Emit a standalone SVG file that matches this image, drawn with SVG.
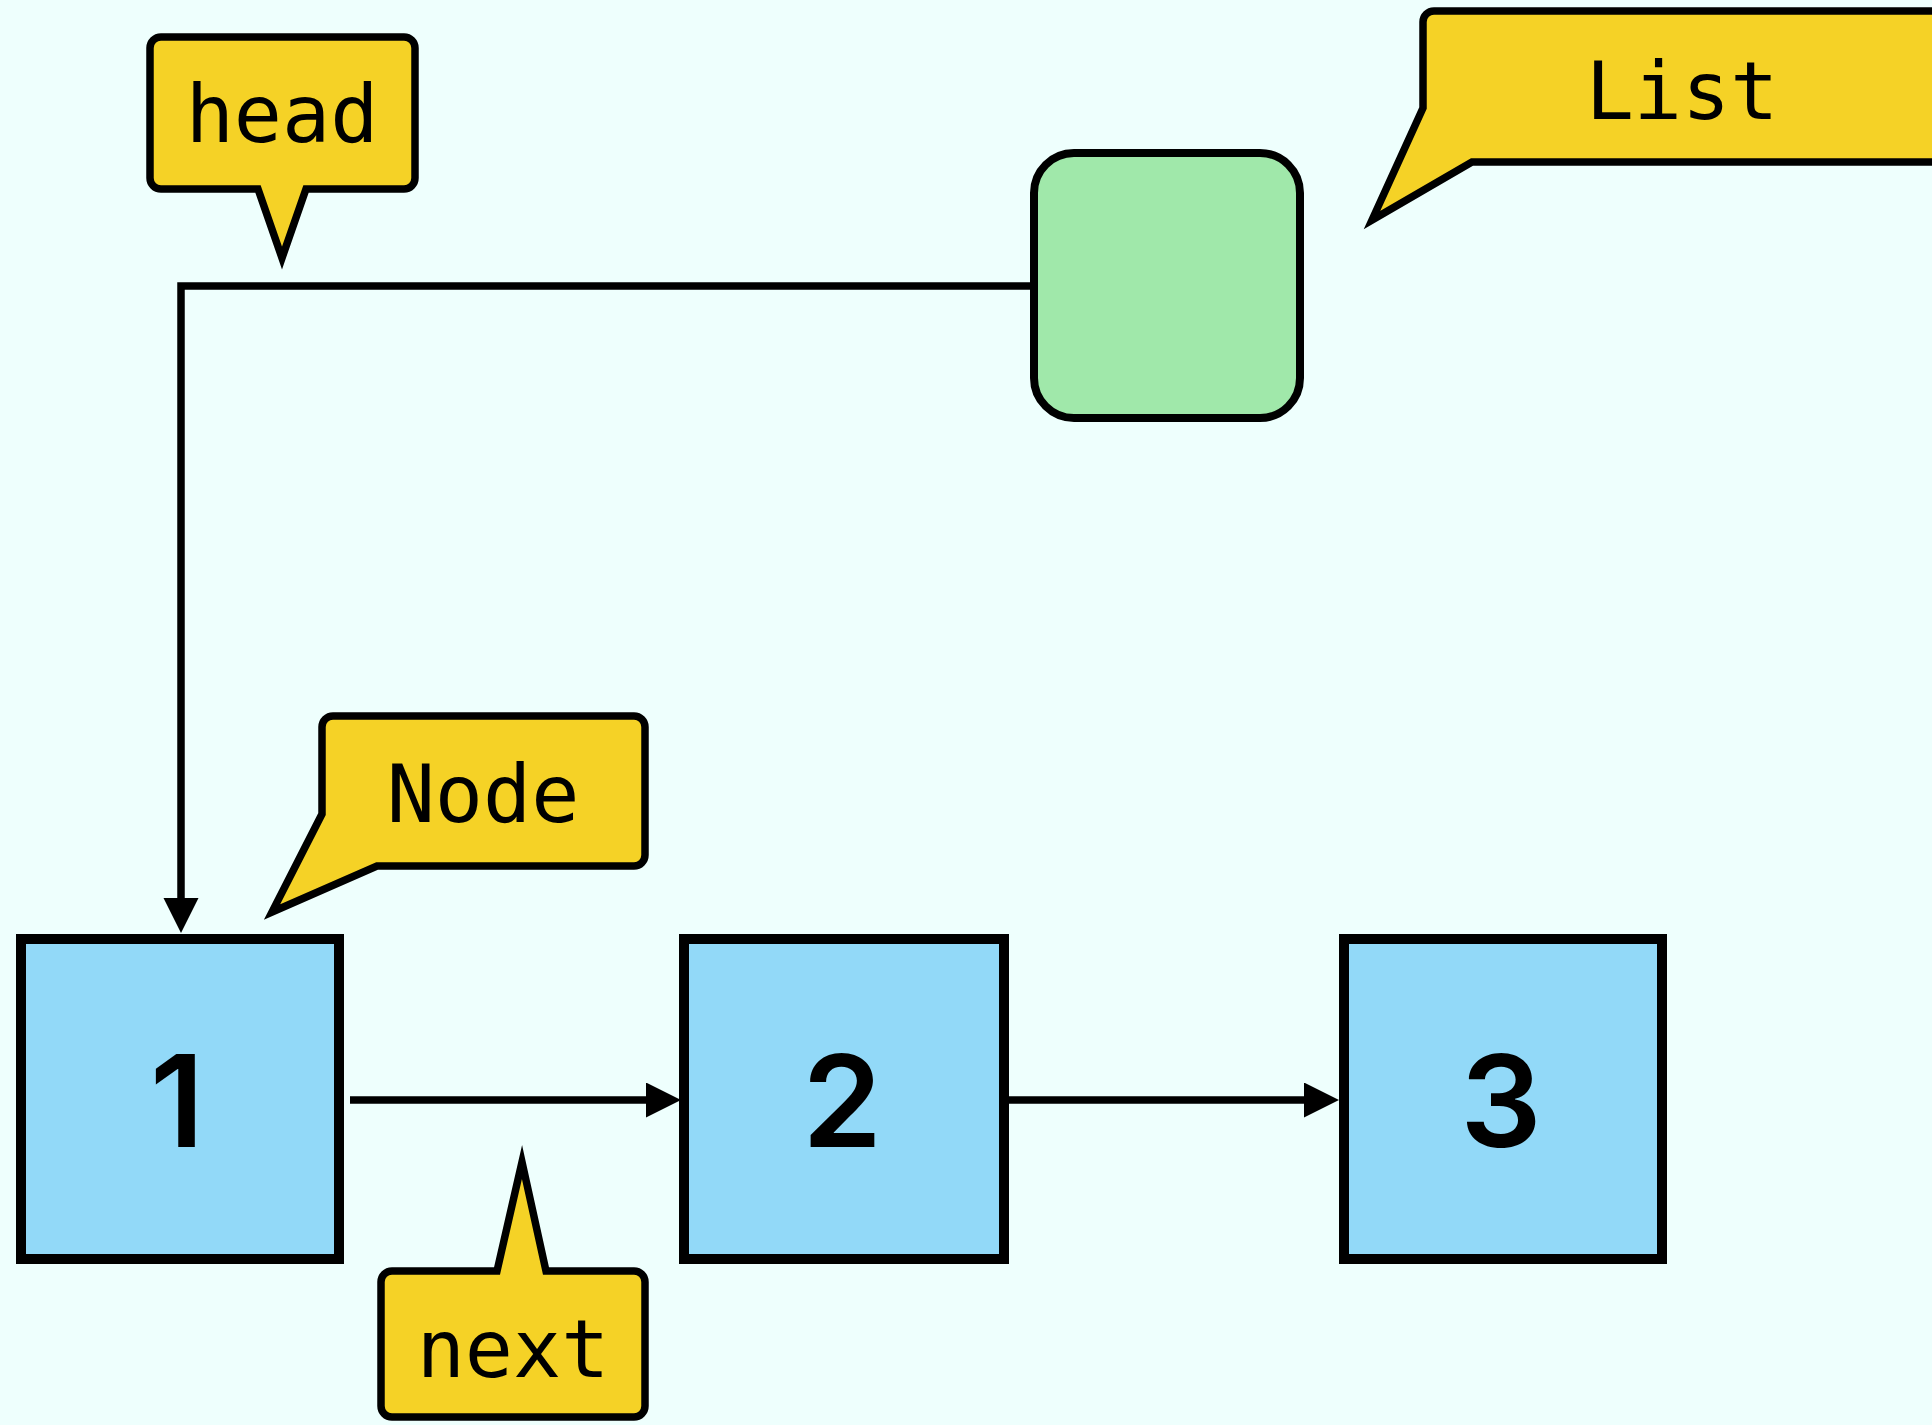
<svg xmlns="http://www.w3.org/2000/svg" width="1932" height="1425" viewBox="0 0 1932 1425">
  <style>
    .bg { fill: #EEFFFD; }
    .cell { fill: #92D9F8; stroke: #000; stroke-width: 10; }
    .obj { fill: #A0E8AA; stroke: #000; stroke-width: 8; }
    .tip { fill: #F5D226; stroke: #000; stroke-width: 7.5; stroke-linejoin: miter; stroke-miterlimit: 10; }
    .tipText { font-family: "DejaVu Sans Mono", "Liberation Mono", monospace; font-size: 80px; fill: #000; text-anchor: middle; }
    .num { font-family: Inter, Roboto, "Liberation Sans", sans-serif; font-weight: 600; font-size: 128px; fill: #000; text-anchor: middle; }
    .link { fill: none; stroke: #000; stroke-width: 7.5; }
  </style>
  <defs>
    <marker id="arrow" markerUnits="userSpaceOnUse" markerWidth="36" markerHeight="36" refX="0" refY="17.5" orient="auto">
      <path d="M0,0 L35,17.5 L0,35 Z" fill="#000"/>
    </marker>
  </defs>

  <rect class="bg" x="0" y="0" width="1932" height="1425"/>

  <!-- pointer links -->
  <g id="connectors">
    <path class="link" d="M1034,286 H181 V898" marker-end="url(#arrow)"/>
    <path class="link" d="M350,1100 H646" marker-end="url(#arrow)"/>
    <path class="link" d="M1009,1100 H1304" marker-end="url(#arrow)"/>
  </g>

  <!-- list object -->
  <g id="list-object">
    <rect class="obj" x="1034" y="153" width="266" height="265" rx="40" ry="40"/>
  </g>

  <!-- linked nodes -->
  <g id="node-1">
    <rect class="cell" x="21" y="939" width="318" height="320"/>
    <text class="num" x="177" y="1147">1</text>
  </g>
  <g id="node-2">
    <rect class="cell" x="684" y="939" width="320" height="320"/>
    <text class="num" x="842" y="1147">2</text>
  </g>
  <g id="node-3">
    <rect class="cell" x="1344" y="939" width="318" height="320"/>
    <text class="num" x="1501" y="1147">3</text>
  </g>

  <!-- callout labels -->
  <g id="label-head">
    <path class="tip" d="M161,37 H404 A11,11 0 0 1 415,48 V178 A11,11 0 0 1 404,189 H306 L282,258 L258,189 H161 A11,11 0 0 1 150,178 V48 A11,11 0 0 1 161,37 Z"/>
    <text class="tipText" x="282" y="142">head</text>
  </g>
  <g id="label-list">
    <path class="tip" d="M1434,11 H1950 V162 H1472 L1372,220 L1423,108 V22 A11,11 0 0 1 1434,11 Z"/>
    <text class="tipText" x="1682" y="119">List</text>
  </g>
  <g id="label-node">
    <path class="tip" d="M333,716 H634 A11,11 0 0 1 645,727 V855 A11,11 0 0 1 634,866 H377 L272,912 L322,814 V727 A11,11 0 0 1 333,716 Z"/>
    <text class="tipText" x="483" y="822">Node</text>
  </g>
  <g id="label-next">
    <path class="tip" d="M392,1271 H497 L522,1162 L546,1271 H634 A11,11 0 0 1 645,1282 V1406 A11,11 0 0 1 634,1417 H392 A11,11 0 0 1 381,1406 V1282 A11,11 0 0 1 392,1271 Z"/>
    <text class="tipText" x="513" y="1377">next</text>
  </g>
</svg>
